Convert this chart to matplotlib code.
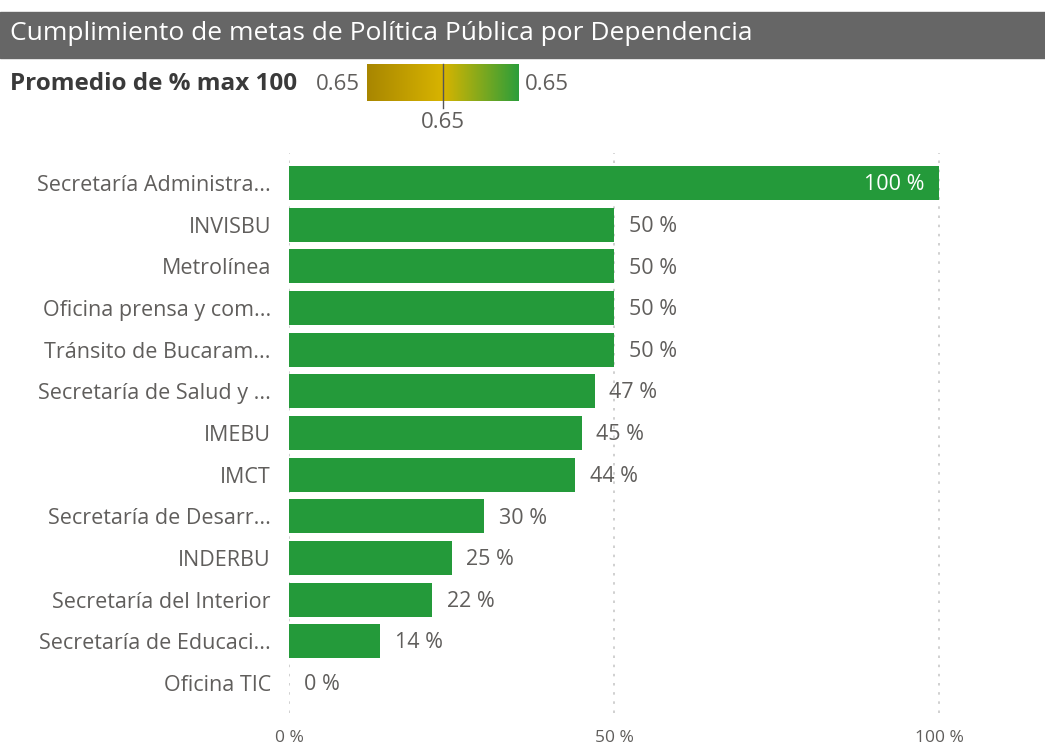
import matplotlib
matplotlib.use("Agg")
import matplotlib.pyplot as plt
import numpy as np
from matplotlib.colors import LinearSegmentedColormap

plt.rcParams['font.family'] = ['Open Sans', 'DejaVu Sans']

categories = ["Secretaría Administra...", "INVISBU", "Metrolínea", "Oficina prensa y com...",
              "Tránsito de Bucaram...", "Secretaría de Salud y ...", "IMEBU", "IMCT",
              "Secretaría de Desarr...", "INDERBU", "Secretaría del Interior",
              "Secretaría de Educaci...", "Oficina TIC"]
values = [100, 50, 50, 50, 50, 47, 45, 44, 30, 25, 22, 14, 0]
xticks = [0, 50, 100]
xtick_labels = ["0 %", "50 %", "100 %"]
title = "Cumplimiento de metas de Política Pública por Dependencia"
legend_title = "Promedio de % max 100"
legend_value = 0.65

W, H = 1045, 753
fig = plt.figure(figsize=(W / 100, H / 100), dpi=100)

bar_color = "#249A3A"
text_color = "#605E5C"

# Title bar
fig.patches.append(plt.Rectangle((0, 1 - 58 / H), 1, 46 / H, transform=fig.transFigure,
                                 color="#666666", zorder=0))
fig.text(10 / W, 1 - 34 / H, title, color="white", fontsize=19, va="center", ha="left")

# Legend
fig.text(10 / W, 1 - 84 / H, legend_title, color="#3A3A3A", fontsize=17.5,
         fontweight="bold", va="center", ha="left")
fig.text(360 / W, 1 - 84 / H, f"{legend_value:.2f}", color=text_color, fontsize=16,
         va="center", ha="right")
fig.text(525 / W, 1 - 84 / H, f"{legend_value:.2f}", color=text_color, fontsize=16,
         va="center", ha="left")
fig.text(443 / W, 1 - 123 / H, f"{legend_value:.2f}", color=text_color, fontsize=16,
         va="center", ha="center")
cax = fig.add_axes([367 / W, 1 - 101 / H, 152 / W, 37 / H])
cmap = LinearSegmentedColormap.from_list("g", [(0, "#A88600"), (0.5, "#D8B400"), (1, "#2C9E3A")])
cax.imshow(np.linspace(0, 1, 256)[None, :], aspect="auto", cmap=cmap, extent=[0, 1, 0, 1])
cax.set_xlim(0, 1)
cax.set_ylim(0, 1)
cax.axis("off")
fig.add_artist(plt.Line2D([443 / W, 443 / W], [1 - 108 / H, 1 - 64 / H],
                          transform=fig.transFigure, color="#555555", lw=1))

# Main axes
left, right = 289, 1040
top, bottom = 153, 713
ax = fig.add_axes([left / W, 1 - bottom / H, (right - left) / W, (bottom - top) / H])
n = len(categories)
y = np.arange(n)
ax.barh(y, values, height=0.82, color=bar_color, zorder=2)
ax.set_ylim(n - 1 + 0.72, -0.72)
ax.set_xlim(0, (right - left) / 6.5)
ax.set_yticks(y)
ax.set_yticklabels(categories, fontsize=15.5, color=text_color)
ax.set_xticks(xticks)
ax.set_xticklabels(xtick_labels, fontsize=12.5, color=text_color)
ax.tick_params(length=0)
ax.tick_params(axis="y", pad=13)
ax.tick_params(axis="x", pad=12)
for s in ax.spines.values():
    s.set_visible(False)
ax.grid(axis="x", color="#C8C8C8", linestyle=(0, (1.5, 4)), lw=1.2, zorder=0)
ax.set_axisbelow(True)

for yi, v in zip(y, values):
    if v >= 90:
        ax.text(v - 2.3, yi + 0.04, f"{v} %", color="white", fontsize=15.5, va="center", ha="right")
    else:
        ax.text(v + 2.3, yi + 0.04, f"{v} %", color=text_color, fontsize=15.5, va="center", ha="left")

fig.savefig("out.png", dpi=100)
